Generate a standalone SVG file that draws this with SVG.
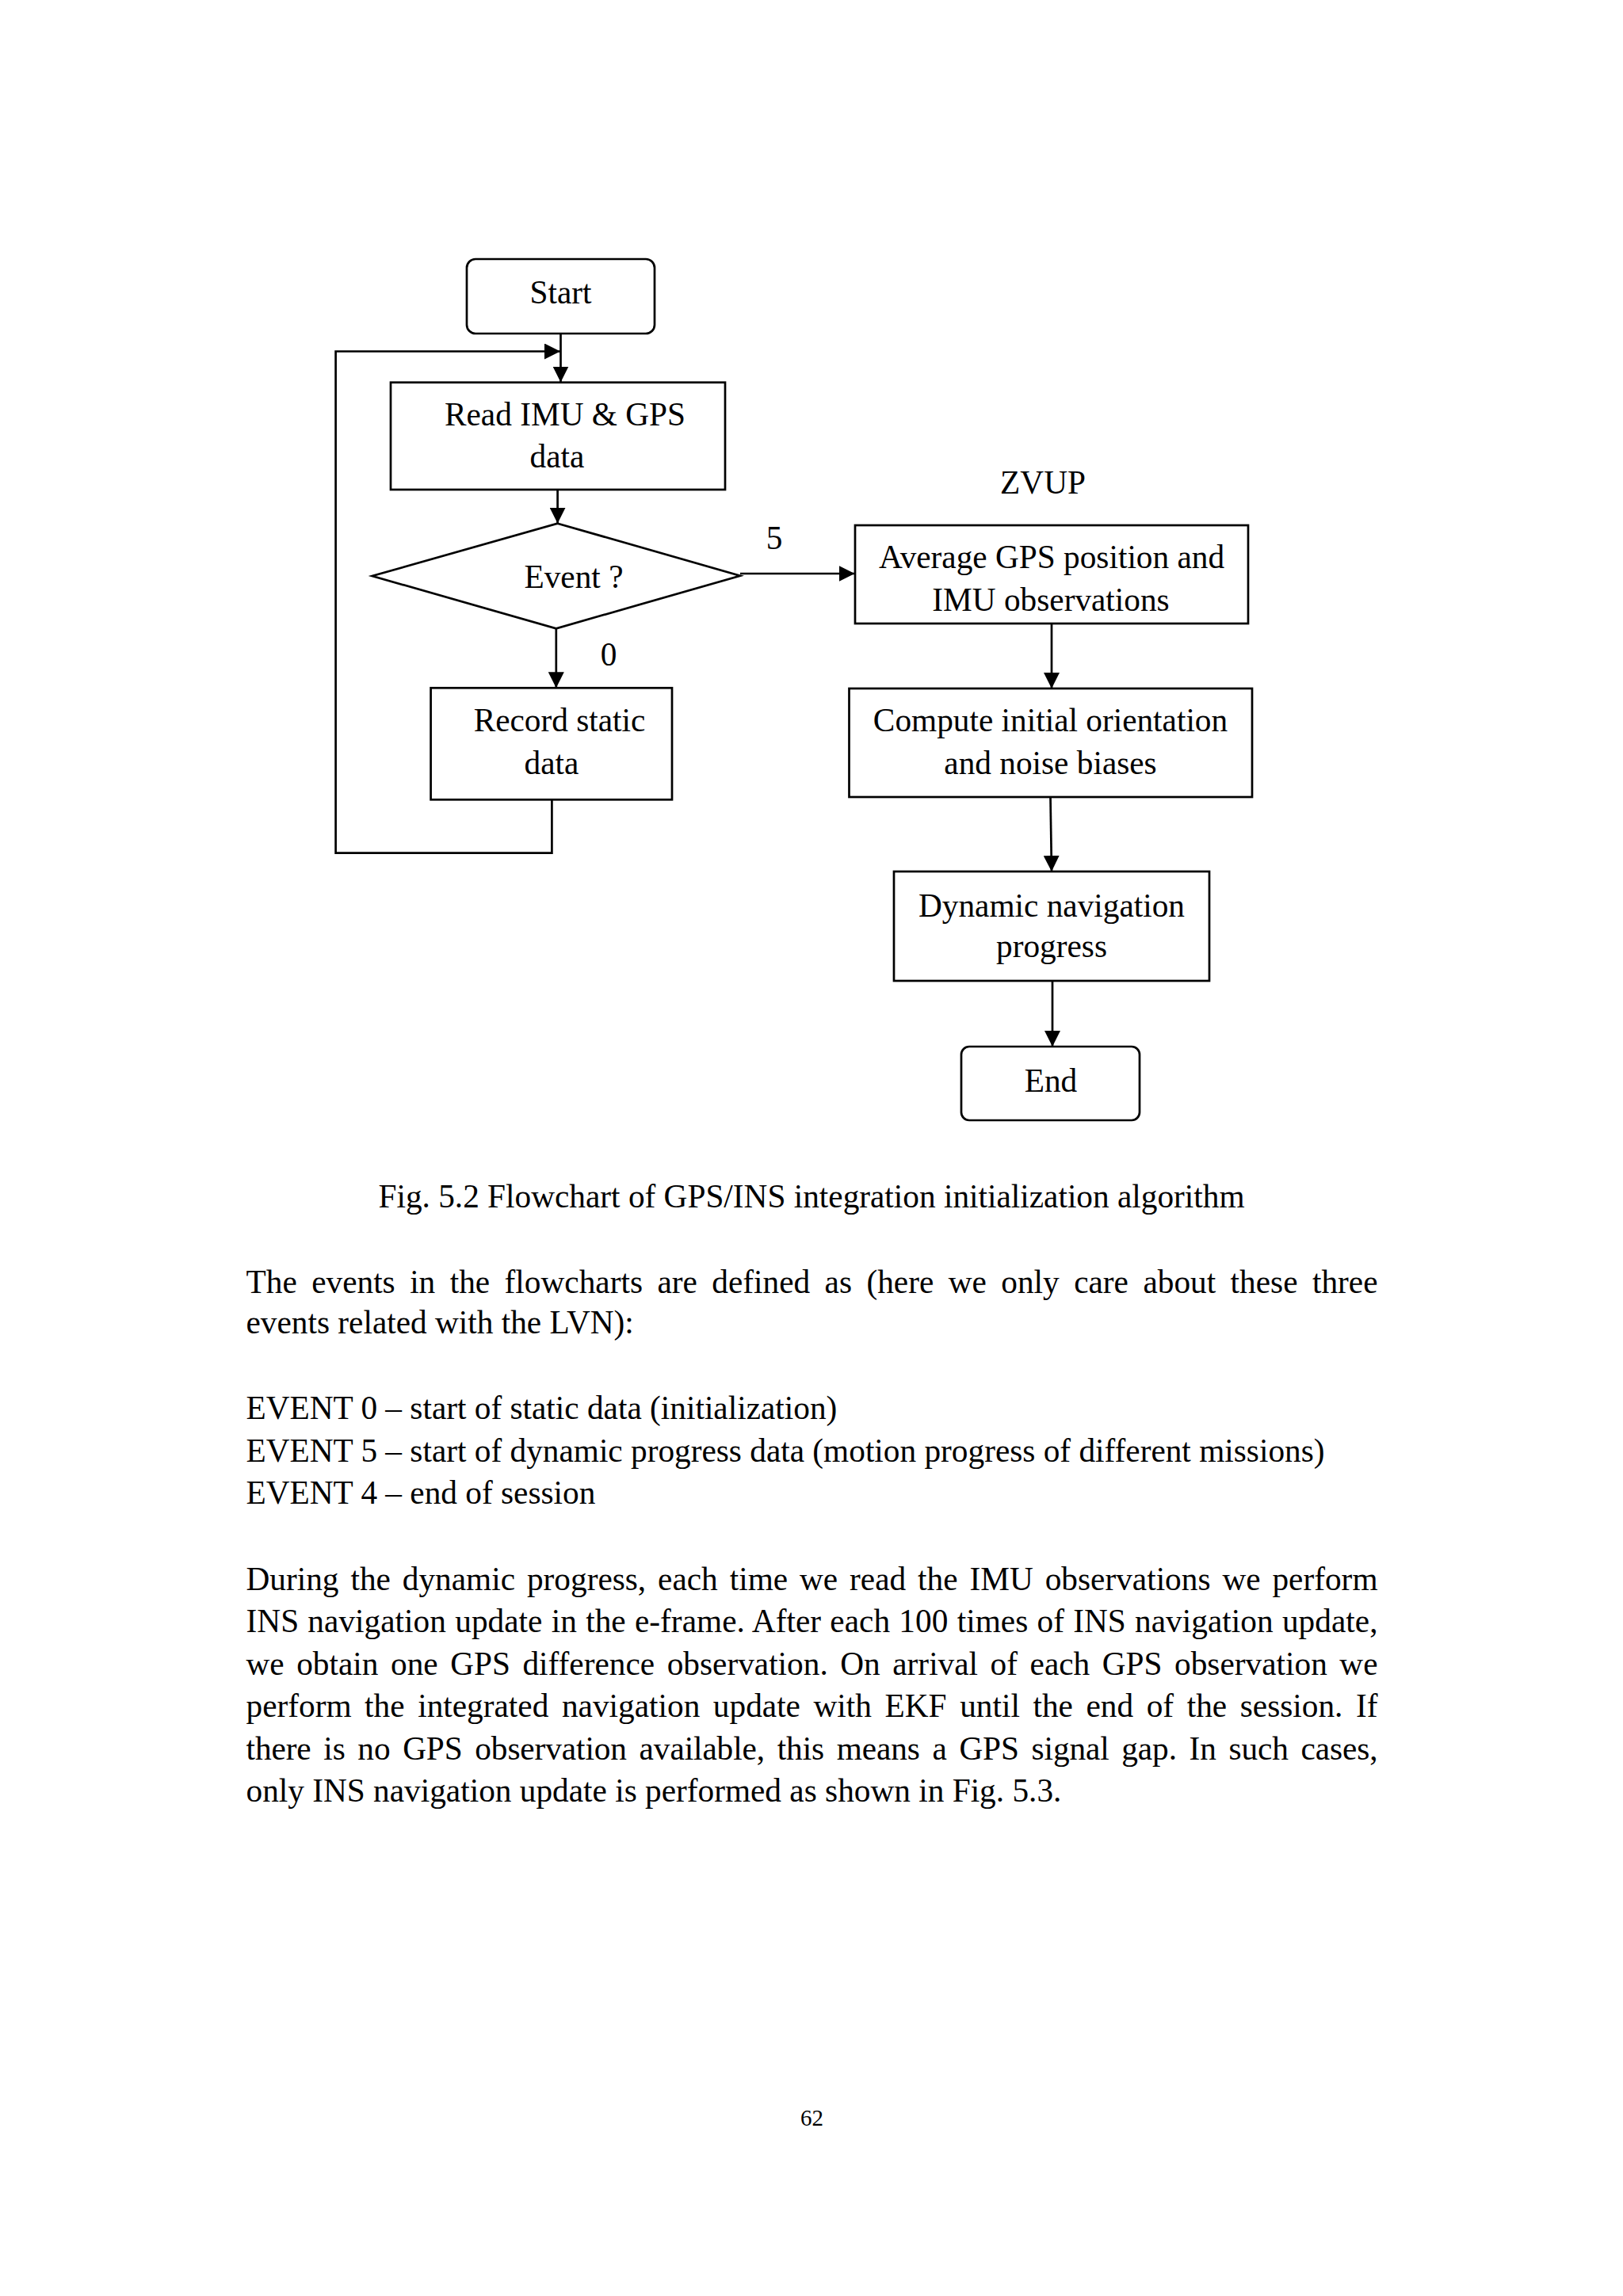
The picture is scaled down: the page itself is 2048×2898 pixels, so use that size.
<svg xmlns="http://www.w3.org/2000/svg" width="2048" height="2898" viewBox="0 0 2048 2898">
<style>
.bg{fill:#ffffff}
.box{fill:#ffffff;stroke:#000;stroke-width:2.7}
.con{fill:none;stroke:#000;stroke-width:2.7}
.t{font-family:"Liberation Serif","Times New Roman",serif;font-size:41.3px;fill:#000}
.c{text-anchor:middle}
.pg{font-family:"Liberation Serif","Times New Roman",serif;font-size:29px;fill:#000;text-anchor:middle}
</style>
<defs>
<marker id="ah" markerUnits="userSpaceOnUse" markerWidth="20" markerHeight="20" refX="20" refY="10" orient="auto">
<path d="M0,0 L20,10 L0,20 z" fill="#000"/>
</marker>
</defs>
<rect class="bg" x="0" y="0" width="2048" height="2898"/>

<g id="connectors">
<path class="con" d="M707.5,421 V482.5" marker-end="url(#ah)"/>
<path class="con" d="M696.4,1009.3 V1076.7 H423.6 V443.5 H707" marker-end="url(#ah)"/>
<path class="con" d="M703.6,618 V660.7" marker-end="url(#ah)"/>
<path class="con" d="M701.8,793.3 V868.3" marker-end="url(#ah)"/>
<path class="con" d="M934,724 H1078.5" marker-end="url(#ah)"/>
<path class="con" d="M1327,787 V869" marker-end="url(#ah)"/>
<path class="con" d="M1325.5,1006 L1327,1100" marker-end="url(#ah)"/>
<path class="con" d="M1328,1238 V1321" marker-end="url(#ah)"/>
</g>

<g id="start">
<rect class="box" x="589" y="327" width="237" height="94" rx="11"/>
<text class="t c" x="707.5" y="383">Start</text>
</g>

<g id="read">
<rect class="box" x="493" y="482.7" width="422" height="135.3"/>
<text class="t c" x="713" y="537.3">Read IMU &amp; GPS</text>
<text class="t c" x="703" y="590">data</text>
</g>

<g id="event">
<polygon class="box" points="703.6,660.7 934,726.7 701.8,793.3 469.6,727"/>
<text class="t c" x="724" y="741.7">Event ?</text>
</g>

<g id="label0">
<text class="t c" x="768" y="840">0</text>
</g>

<g id="label5">
<text class="t c" x="977" y="693">5</text>
</g>

<g id="record">
<rect class="box" x="543.6" y="868.3" width="304.4" height="141"/>
<text class="t c" x="706" y="923.3">Record static</text>
<text class="t c" x="696" y="977.3">data</text>
</g>

<g id="zvup">
<text class="t c" x="1316" y="623">ZVUP</text>
</g>

<g id="average">
<rect class="box" x="1079" y="663" width="496" height="124"/>
<text class="t c" x="1327" y="717">Average GPS position and</text>
<text class="t c" x="1326" y="771">IMU observations</text>
</g>

<g id="compute">
<rect class="box" x="1071.5" y="869" width="508.5" height="137"/>
<text class="t c" x="1325.5" y="923.3">Compute initial orientation</text>
<text class="t c" x="1325.5" y="976.7">and noise biases</text>
</g>

<g id="dynamic">
<rect class="box" x="1128" y="1100" width="398" height="138"/>
<text class="t c" x="1327" y="1156.7">Dynamic navigation</text>
<text class="t c" x="1327" y="1208.3">progress</text>
</g>

<g id="end">
<rect class="box" x="1213" y="1321" width="225" height="93" rx="10"/>
<text class="t c" x="1326" y="1378">End</text>
</g>

<g id="caption">
<text class="t c" x="1024" y="1524">Fig. 5.2 Flowchart of GPS/INS integration initialization algorithm</text>
</g>

<g id="body">
<text class="t" x="310.5" y="1631.7" word-spacing="8.1" textLength="1428" lengthAdjust="spacing">The events in the flowcharts are defined as (here we only care about these three</text>
<text class="t" x="310.5" y="1683.3">events related with the LVN):</text>
<text class="t" x="310.5" y="1791">EVENT 0 – start of static data (initialization)</text>
<text class="t" x="310.5" y="1844.5">EVENT 5 – start of dynamic progress data (motion progress of different missions)</text>
<text class="t" x="310.5" y="1898">EVENT 4 – end of session</text>
<text class="t" x="310.5" y="2006.7" word-spacing="4.6" textLength="1428" lengthAdjust="spacing">During the dynamic progress, each time we read the IMU observations we perform</text>
<text class="t" x="310.5" y="2060.2" word-spacing="0.9" textLength="1428" lengthAdjust="spacing">INS navigation update in the e-frame. After each 100 times of INS navigation update,</text>
<text class="t" x="310.5" y="2113.7" word-spacing="5.2" textLength="1428" lengthAdjust="spacing">we obtain one GPS difference observation. On arrival of each GPS observation we</text>
<text class="t" x="310.5" y="2167.2" word-spacing="6.25" textLength="1428" lengthAdjust="spacing">perform the integrated navigation update with EKF until the end of the session. If</text>
<text class="t" x="310.5" y="2220.7" word-spacing="5.5" textLength="1428" lengthAdjust="spacing">there is no GPS observation available, this means a GPS signal gap. In such cases,</text>
<text class="t" x="310.5" y="2274.2">only INS navigation update is performed as shown in Fig. 5.3.</text>
</g>

<g id="page-number">
<text class="pg" x="1024.5" y="2683">62</text>
</g>
</svg>
